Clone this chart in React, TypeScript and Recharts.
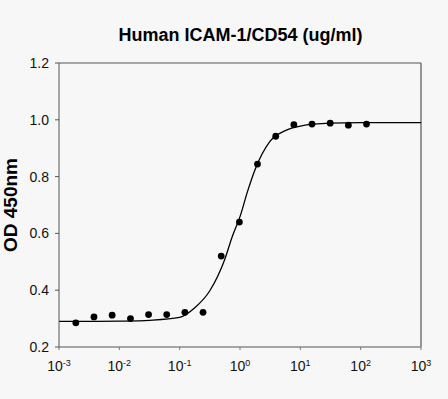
import { ComposedChart, Line, Scatter, XAxis, YAxis, ReferenceLine } from 'recharts';

// measured points (ug/ml, OD 450nm)
const concentrations = [0.0019, 0.0038, 0.0076, 0.0153, 0.0305, 0.061, 0.122, 0.244, 0.488, 0.977, 1.95, 3.91, 7.81, 15.6, 31.25, 62.5, 125];
const odValues = [0.285, 0.306, 0.312, 0.3, 0.314, 0.314, 0.322, 0.322, 0.52, 0.64, 0.844, 0.942, 0.983, 0.985, 0.988, 0.981, 0.985];

// fitted curve
const fitX = [0.001, 0.00316, 0.01, 0.0316, 0.1, 0.178, 0.316, 0.562, 0.75, 1, 1.33, 1.78, 3.16, 5.62, 10, 31.6, 100, 316, 1000];
const fitY = [0.29, 0.29, 0.291, 0.294, 0.304, 0.338, 0.398, 0.51, 0.591, 0.659, 0.747, 0.825, 0.925, 0.962, 0.978, 0.988, 0.99, 0.99, 0.99];

const xTicks = [0.001, 0.01, 0.1, 1, 10, 100, 1000];
const xTickExponents = ['-3', '-2', '-1', '0', '1', '2', '3'];
const yTicks = [0.2, 0.4, 0.6, 0.8, 1.0, 1.2];

const points = concentrations.map((x, i) => ({ x, y: odValues[i] }));
const curve = fitX.map((x, i) => ({ x, y: fitY[i] }));

const FONT = '"Liberation Sans", Arial, sans-serif';

function PowerTick(props: any) {
  const { x, y, payload } = props;
  const idx = xTicks.indexOf(payload.value);
  return (
    <text x={x} y={y + 19} textAnchor="middle" fontFamily={FONT} fontSize={14} fill="#111">
      <tspan>10</tspan>
      <tspan dy={-5} fontSize={9}>{xTickExponents[idx]}</tspan>
    </text>
  );
}

function Dot(props: any) {
  return <circle cx={props.cx} cy={props.cy} r={3.4} fill="#000" />;
}

function YLabel() {
  return (
    <text
      x={17}
      y={205}
      transform="rotate(-90 17 205)"
      textAnchor="middle"
      fontFamily={FONT}
      fontSize={19}
      fontWeight="bold"
      fill="#000"
    >
      OD 450nm
    </text>
  );
}

export default function App() {
  return (
    <div style={{ position: 'absolute', left: 0, top: 0, width: 448, height: 399, background: '#f7f7f7' }}>
      <div
        style={{
          position: 'absolute',
          left: 0,
          top: 24,
          width: 481,
          textAlign: 'center',
          fontFamily: FONT,
          fontSize: 18,
          fontWeight: 'bold',
          color: '#000',
          lineHeight: '22px',
        }}
      >
        Human ICAM-1/CD54 (ug/ml)
      </div>
      <ComposedChart width={448} height={399} margin={{ top: 63, right: 27, bottom: 22, left: 0 }}>
        <XAxis
          dataKey="x"
          type="number"
          scale="log"
          domain={[0.001, 1000]}
          ticks={xTicks}
          allowDataOverflow
          height={30}
          tickSize={3}
          tickMargin={2}
          tick={<PowerTick />}
          axisLine={{ stroke: '#8a8a8a', strokeWidth: 1.6 }}
          tickLine={{ stroke: '#777' }}
        />
        <YAxis
          type="number"
          domain={[0.2, 1.2]}
          ticks={yTicks}
          allowDataOverflow
          width={59}
          tickSize={4}
          tickMargin={6}
          tickFormatter={(v: number) => v.toFixed(1)}
          tick={{ fontSize: 14, fontFamily: FONT, fill: '#111' }}
          axisLine={{ stroke: '#555' }}
          tickLine={{ stroke: '#555' }}
          label={<YLabel />}
        />
        <ReferenceLine y={1.2} stroke="#555" strokeWidth={1.2} />
        <ReferenceLine x={1000} stroke="#555" strokeWidth={1.2} />
        <Line
          data={curve}
          dataKey="y"
          type="monotone"
          stroke="#000"
          strokeWidth={1.3}
          dot={false}
          activeDot={false}
          isAnimationActive={false}
        />
        <Scatter data={points} dataKey="y" shape={<Dot />} isAnimationActive={false} />
      </ComposedChart>
    </div>
  );
}
